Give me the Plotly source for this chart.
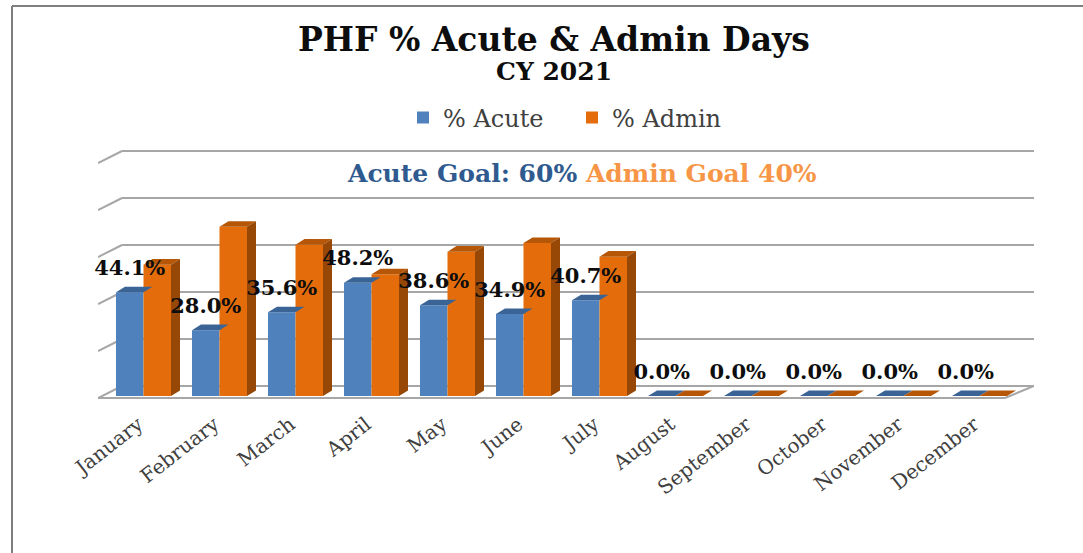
import plotly.graph_objects as go

months = ["January", "February", "March", "April", "May", "June", "July",
          "August", "September", "October", "November", "December"]
acute = [44.1, 28.0, 35.6, 48.2, 38.6, 34.9, 40.7, 0, 0, 0, 0, 0]
admin = [55.9, 72.0, 64.4, 51.8, 61.4, 65.1, 59.3, 0, 0, 0, 0, 0]
grid_levels = [0, 20, 40, 60, 80, 100]

W, H = 1083, 553
L, R, T, B = 98, 1034, 148, 400      # plot-area box in pixels
BASE_PX, PX_PER_PCT = 396, 2.35      # where 0 % falls, and scale
STEP_PX, FIRST_CENTER_PX = 76, 143.5 # category spacing, first category centre
BAR_PX = 27.5
DX, DY = 9 / STEP_PX, 5.6 / PX_PER_PCT  # depth of the 3-D look, in axis units
BARW = BAR_PX / STEP_PX

x_range = [(L - FIRST_CENTER_PX) / STEP_PX, (R - FIRST_CENTER_PX) / STEP_PX]
y_range = [(BASE_PX - B) / PX_PER_PCT, (BASE_PX - T) / PX_PER_PCT]

SERIF = "DejaVu Serif"
BLUE, BLUE_TOP = "#4F81BD", "#3A6496"
ORANGE, ORANGE_TOP, ORANGE_SIDE = "#E46C0A", "#B65708", "#974806"
GRID = "#A6A6A6"


def px(x):
    return (x - L) / (R - L)


def py(y):
    return (B - y) / (B - T)


def poly(xs, ys, color):
    return go.Scatter(x=xs, y=ys, mode="lines", fill="toself", fillcolor=color,
                      line=dict(width=0, color=color), showlegend=False,
                      hoverinfo="skip")


fig = go.Figure()
idx = list(range(len(months)))
fig.add_bar(x=idx, y=acute, name="% Acute", marker=dict(color=BLUE, line_width=0))
fig.add_bar(x=idx, y=admin, name="% Admin", marker=dict(color=ORANGE, line_width=0))

# depth faces derived from the series values
for i, (a, b) in enumerate(zip(acute, admin)):
    l, m, r = i - BARW, i, i + BARW
    fig.add_trace(poly([l, l + DX, m + DX, m, l], [a, a + DY, a + DY, a, a], BLUE_TOP))
    fig.add_trace(poly([m, m + DX, r + DX, r, m], [b, b + DY, b + DY, b, b], ORANGE_TOP))
    fig.add_trace(poly([r, r + DX, r + DX, r, r], [0, DY, b + DY, b, 0], ORANGE_SIDE))

# data labels of the first series
fig.add_trace(go.Scatter(
    x=[i - BARW / 2 for i in idx], y=[v + 22.5 / PX_PER_PCT for v in acute],
    mode="text", text=[f"<b>{v:.1f}%</b>" for v in acute], textposition="middle center",
    textfont=dict(family=SERIF, size=21, color="#0D0D0D"),
    showlegend=False, hoverinfo="skip", cliponaxis=False))

# 3-D walls: back gridlines plus their slanted left stubs
x_wall_l, x_wall_back = x_range[0], x_range[0] + 24 / STEP_PX
back = 10 / PX_PER_PCT
front = -2 / PX_PER_PCT
shapes = []
for lv in grid_levels:
    for x0, y0, x1, y1 in [(x_wall_l, lv + front, x_wall_back, lv + back),
                           (x_wall_back, lv + back, x_range[1], lv + back)]:
        shapes.append(dict(type="line", xref="x", yref="y", x0=x0, y0=y0, x1=x1, y1=y1,
                           layer="below", line=dict(color=GRID, width=2)))
# floor front edge and right slant
x_floor_r = x_range[1] - 29 / STEP_PX
shapes.append(dict(type="line", xref="x", yref="y", x0=x_wall_l, y0=front, x1=x_floor_r, y1=front,
                   layer="below", line=dict(color=GRID, width=2)))
shapes.append(dict(type="line", xref="x", yref="y", x0=x_floor_r, y0=front, x1=x_range[1], y1=back,
                   layer="below", line=dict(color=GRID, width=2)))
# outer frame of the picture
shapes.append(dict(type="line", xref="paper", yref="paper", x0=px(12), y0=py(6), x1=px(12), y1=py(553),
                   line=dict(color="#7F7F7F", width=2)))
shapes.append(dict(type="line", xref="paper", yref="paper", x0=px(12), y0=py(6), x1=px(1083), y1=py(6),
                   line=dict(color="#7F7F7F", width=2)))

annotations = [
    dict(xref="paper", yref="paper", x=px(554), y=py(39), showarrow=False, xanchor="center", yanchor="middle",
         text="<b>PHF % Acute &amp; Admin Days</b>", font=dict(family=SERIF, size=33, color="#0D0D0D")),
    dict(xref="paper", yref="paper", x=px(554), y=py(72), showarrow=False, xanchor="center", yanchor="middle",
         text="<b>CY 2021</b>", font=dict(family=SERIF, size=25, color="#0D0D0D")),
    dict(xref="paper", yref="paper", x=px(582), y=py(173), showarrow=False, xanchor="center", yanchor="middle",
         text="<b><span style='color:#2F5A8F'>Acute Goal: 60%</span> "
              "<span style='color:#F79646'>Admin Goal 40%</span></b>",
         font=dict(family=SERIF, size=25)),
]

fig.update_layout(
    width=W, height=H, autosize=False,
    margin=dict(l=L, r=W - R, t=T, b=H - B, pad=0),
    paper_bgcolor="white", plot_bgcolor="rgba(0,0,0,0)",
    barmode="group", bargap=1 - 2 * BARW, bargroupgap=0,
    shapes=shapes, annotations=annotations,
    legend=dict(orientation="h", xref="paper", yref="paper", x=px(403), y=py(118),
                xanchor="left", yanchor="middle", entrywidth=124, entrywidthmode="pixels",
                font=dict(family=SERIF, size=24, color="#404040"),
                bgcolor="rgba(0,0,0,0)"),
    xaxis=dict(range=x_range, tickmode="array", tickvals=[i - 0.07 for i in idx], ticktext=months,
               tickangle=-38, showgrid=False, zeroline=False, showline=False,
               ticks="outside", ticklen=4, tickcolor="rgba(0,0,0,0)",
               tickfont=dict(family=SERIF, size=20, color="#404040")),
    yaxis=dict(range=y_range, visible=False, showgrid=False, zeroline=False),
)

fig.write_html("out.html", post_script="document.body.style.margin='0';",
               config=dict(displayModeBar=False))
